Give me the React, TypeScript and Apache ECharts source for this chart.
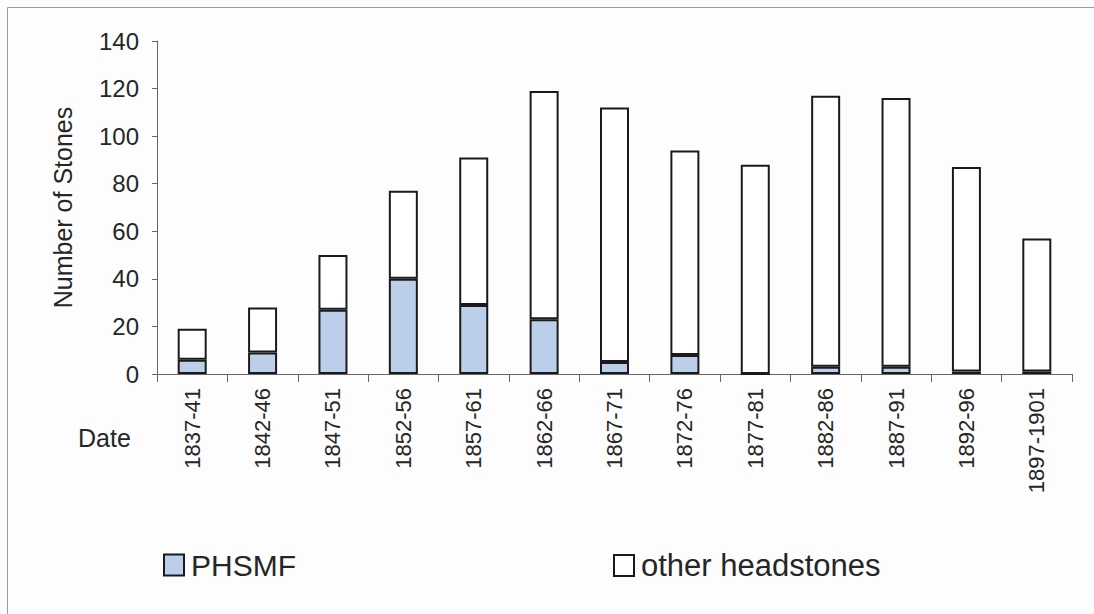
import React, { useEffect, useRef } from "react";
import * as echarts from "echarts";

const categories = ["1837-41", "1842-46", "1847-51", "1852-56", "1857-61", "1862-66", "1867-71", "1872-76", "1877-81", "1882-86", "1887-91", "1892-96", "1897-1901"];
const phsmf = [6, 9, 27, 40, 29, 23, 5, 8, 0, 3, 3, 1, 1];
const otherHeadstones = [13, 19, 23, 37, 62, 96, 107, 86, 88, 114, 113, 86, 56];
const yTicks = { min: 0, max: 140, interval: 20 };

const FONT = "Liberation Sans, Arial, sans-serif";
const TEXT = "#262626";

export default function App() {
  const ref = useRef<HTMLDivElement>(null);
  useEffect(() => {
    if (!ref.current) return;
    const chart = echarts.init(ref.current, null, { renderer: "svg" });
    chart.setOption({
      animation: false,
      backgroundColor: "#fdfdfd",
      textStyle: { fontFamily: FONT },
      grid: { left: 157, right: 22, top: 41, bottom: 240, containLabel: false },
      legend: [
        {
          data: ["PHSMF"],
          left: 158,
          top: 545,
          itemWidth: 20,
          itemHeight: 21,
          icon: "rect",
          textStyle: { fontSize: 30, color: TEXT, fontFamily: FONT, padding: [0, 0, 0, 2] },
        },
        {
          data: ["other headstones"],
          left: 608,
          top: 545,
          itemWidth: 20,
          itemHeight: 21,
          icon: "rect",
          textStyle: { fontSize: 31, color: TEXT, fontFamily: FONT, padding: [0, 0, 0, 2] },
        },
      ],
      xAxis: {
        type: "category",
        data: categories,
        axisLine: { lineStyle: { color: "#666", width: 1 } },
        axisTick: { show: true, length: 8, lineStyle: { color: "#666" } },
        axisLabel: { rotate: 90, fontSize: 22, color: TEXT, margin: 14, interval: 0, fontFamily: FONT },
      },
      yAxis: {
        type: "value",
        min: yTicks.min,
        max: yTicks.max,
        interval: yTicks.interval,
        name: "Number of Stones",
        nameLocation: "middle",
        nameGap: 82,
        nameTextStyle: { fontSize: 25, color: TEXT, fontFamily: FONT },
        axisLine: { show: true, lineStyle: { color: "#666", width: 1 } },
        axisTick: { show: true, length: 5, lineStyle: { color: "#666" } },
        axisLabel: { fontSize: 24, color: TEXT, margin: 18, fontFamily: FONT },
        splitLine: { show: false },
      },
      graphic: [
        {
          type: "rect",
          shape: { x: 7.5, y: 7.5, width: 1100, height: 620 },
          style: { fill: "none", stroke: "#9a9a9a", lineWidth: 1 },
          silent: true,
        },
        {
          type: "text",
          left: 78,
          top: 425,
          style: { text: "Date", fontSize: 25, fill: TEXT, fontFamily: FONT },
        },
      ],
      series: [
        {
          name: "PHSMF",
          type: "bar",
          stack: "total",
          data: phsmf,
          barWidth: 29,
          itemStyle: { color: "#bccfea", borderColor: "#1a1a1a", borderWidth: 2 },
        },
        {
          name: "other headstones",
          type: "bar",
          stack: "total",
          data: otherHeadstones,
          barWidth: 29,
          itemStyle: { color: "#ffffff", borderColor: "#1a1a1a", borderWidth: 2 },
        },
      ],
    });
    return () => chart.dispose();
  }, []);
  return <div ref={ref} style={{ width: 1094, height: 614, position: "absolute", left: 0, top: 0 }} />;
}
